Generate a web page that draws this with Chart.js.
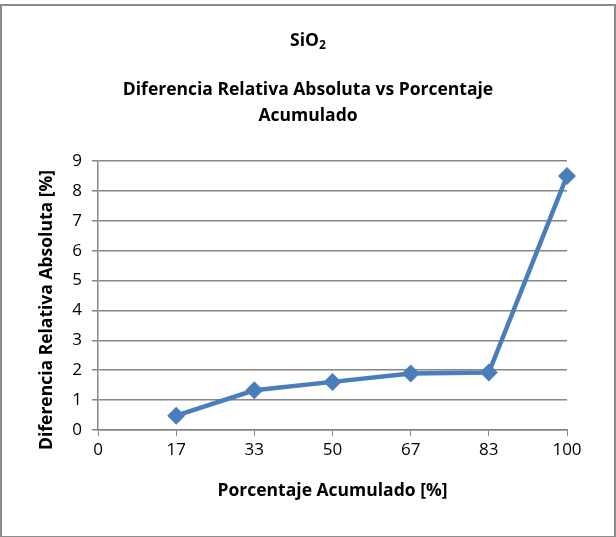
<!DOCTYPE html>
<html>
<head>
<meta charset="utf-8">
<script src="https://cdn.jsdelivr.net/npm/chart.js@4/dist/chart.umd.min.js"></script>
<style>
  body { margin: 0; background: #fff; }
  #wrap { position: relative; width: 616px; height: 537px; }
  #frame { position: absolute; left: 0; top: 4px; width: 612px; height: 530px; border: 2px solid #8c8c8c; }
  canvas { position: absolute; left: 0; top: 0; }
</style>
</head>
<body>
<div id="wrap">
  <div id="frame"></div>
  <canvas id="myChart" width="616" height="537"></canvas>
</div>
<script>
let labels1 = ['0', '17', '33', '50', '67', '83', '100'];
let data1 = [null, 0.48, 1.33, 1.61, 1.89, 1.92, 8.5];
let yTicks = [0, 1, 2, 3, 4, 5, 6, 7, 8, 9];

let fontName = '"Open Sans"';

// titulos dibujados a mano (subindice de SiO2, titulo del eje y desplazado)
let titlePlugin = {
    id: 'titulos',
    afterDraw(chart) {
        let ctx = chart.ctx;
        ctx.save();
        ctx.fillStyle = '#000';
        ctx.textBaseline = 'middle';
        ctx.font = 'bold 17.5px ' + fontName;
        let w1 = ctx.measureText('SiO').width;
        ctx.font = 'bold 12px ' + fontName;
        let w2 = ctx.measureText('2').width;
        let x0 = 308 - (w1 + w2) / 2;
        ctx.textAlign = 'left';
        ctx.font = 'bold 17.5px ' + fontName;
        ctx.fillText('SiO', x0, 41);
        ctx.font = 'bold 12px ' + fontName;
        ctx.fillText('2', x0 + w1, 46);
        ctx.textAlign = 'center';
        ctx.font = 'bold 17.5px ' + fontName;
        ctx.fillText('Diferencia Relativa Absoluta vs Porcentaje', 308, 90);
        ctx.fillText('Acumulado', 308, 116);

        ctx.translate(47, 310);
        ctx.rotate(-Math.PI / 2);
        ctx.font = 'bold 17.5px ' + fontName;
        ctx.fillText('Diferencia Relativa Absoluta [%]', 0, 0);
        ctx.restore();
    }
};

let myChart1 = document.getElementById("myChart").getContext('2d');

let chart1 = new Chart(myChart1, {
    type: 'line',
    data: {
        labels: labels1,
        datasets: [{
            data: data1,
            borderColor: '#4a7ebb',
            backgroundColor: '#4a7ebb',
            borderWidth: 4.5,
            pointStyle: 'rectRot',
            pointRadius: 9,
            pointBorderWidth: 0,
            tension: 0,
            fill: false
        }]
    },
    options: {
        responsive: false,
        animation: false,
        layout: { padding: { top: 161, left: 0, right: 49, bottom: 31 } },
        plugins: {
            legend: { display: false },
            tooltip: { enabled: false }
        },
        scales: {
            x: {
                type: 'category',
                offset: false,
                afterFit(scale) { scale.height = 76; },
                grid: { drawOnChartArea: false, drawTicks: true, tickLength: 6, color: '#868686', tickColor: '#868686' },
                border: { color: '#868686', width: 1.5 },
                ticks: { color: '#000', font: { family: fontName, size: 17 }, padding: 4, maxRotation: 0, autoSkip: false },
                title: { display: true, text: 'Porcentaje Acumulado [%]', color: '#000', font: { family: fontName, size: 17.5, weight: 'bold' }, padding: { top: 4, bottom: 4 } }
            },
            y: {
                min: 0,
                max: 9,
                afterFit(scale) { scale.width = 98; },
                afterBuildTicks(scale) { scale.ticks = yTicks.map(v => ({ value: v })); },
                grid: { color: '#868686', lineWidth: 1.5, tickLength: 6, tickColor: '#868686' },
                border: { color: '#868686', width: 1.5 },
                ticks: { color: '#000', font: { family: fontName, size: 17 }, padding: 10 }
            }
        }
    },
    plugins: [titlePlugin]
});
</script>
</body>
</html>
